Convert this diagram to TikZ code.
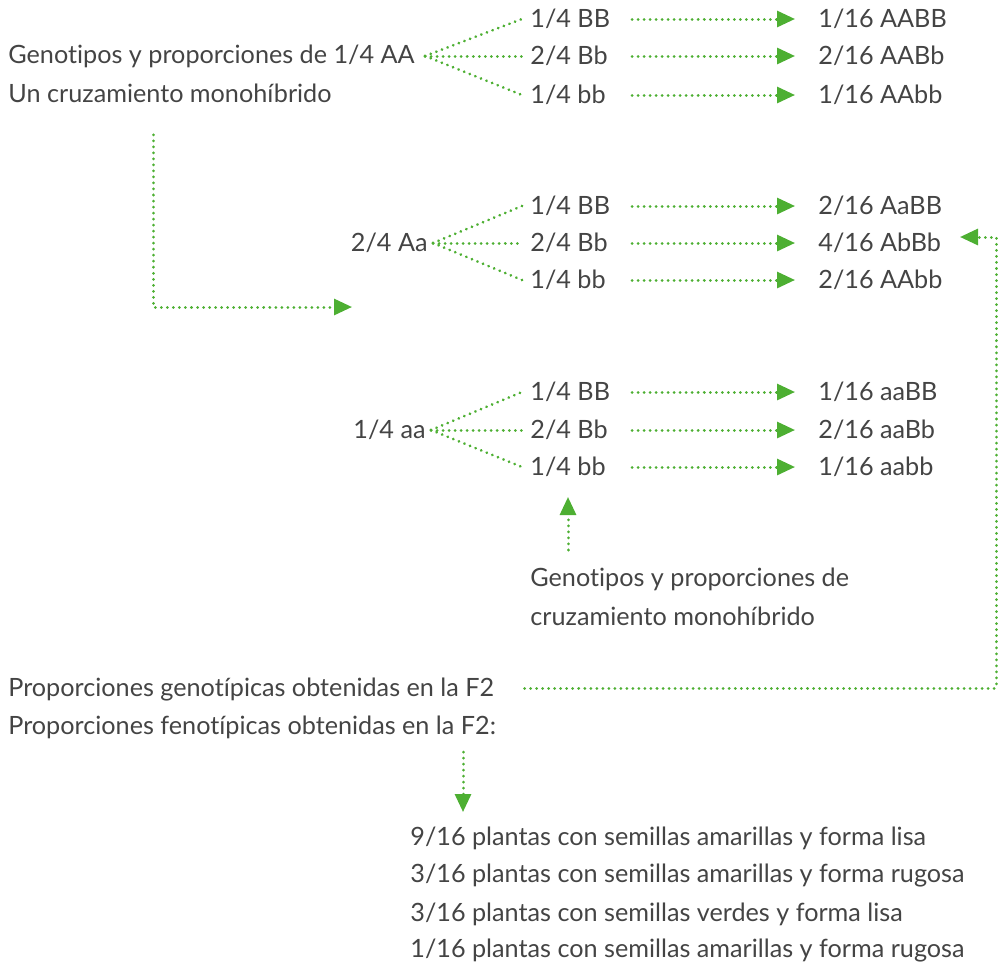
\documentclass[tikz,border=0pt]{standalone}
\usepackage{fontspec}
\setmainfont{Lato}[Ligatures=NoCommon]
\usepackage{xcolor}
\usetikzlibrary{arrows.meta,positioning,calc}
\definecolor{leafgreen}{RGB}{77,175,50}
\definecolor{txtgray}{RGB}{68,68,68}

\begin{document}
\begin{tikzpicture}[x=0.5pt, y=-0.5pt, font=\fontsize{12.6}{14}\selectfont, text=txtgray]
  \tikzstyle{lbl}=[anchor=west, inner sep=0pt]
  \tikzstyle{dots}=[leafgreen, line width=1.5pt, line cap=round, dash pattern=on 0.01pt off 3pt]
  \tikzstyle{arr}=[dots, -{Triangle[length=9pt, width=8pt, line cap=butt]}]
  \useasboundingbox (0,0) rectangle (1006,970);

  % first block, 1/4 AA
  \node[lbl] (gAA) at (8,56) {Genotipos y proporciones de 1/4 AA};
  \node[lbl] (mono) at (8,93) {Un cruzamiento monohíbrido};
  \coordinate (fAA) at ([xshift=5pt]gAA.east);
  \node[lbl] (aBB) at (530,19) {1/4 BB};
  \node[lbl] (aBb) at (530,56) {2/4 Bb};
  \node[lbl] (abb) at (530,95) {1/4 bb};
  \node[lbl] (rAABB) at (818,19) {1/16 AABB};
  \node[lbl] (rAABb) at (818,56) {2/16 AABb};
  \node[lbl] (rAAbb) at (818,95) {1/16 AAbb};

  % second block, 2/4 Aa
  \node[anchor=east, inner sep=0pt] (gAa) at (428,243) {2/4 Aa};
  \coordinate (fAa) at ([xshift=2.5pt]gAa.east);
  \node[lbl] (bBB) at (530,206) {1/4 BB};
  \node[lbl] (bBb) at (530,243) {2/4 Bb};
  \node[lbl] (bbb) at (530,280) {1/4 bb};
  \node[lbl] (rAaBB) at (818,206) {2/16 AaBB};
  \node[lbl] (rAbBb) at (818,243) {4/16 AbBb};
  \node[lbl] (rAAbb2) at (818,280) {2/16 AAbb};

  % third block, 1/4 aa
  \node[anchor=east, inner sep=0pt] (gaa) at (426,430) {1/4 aa};
  \coordinate (faa) at ([xshift=2.5pt]gaa.east);
  \node[lbl] (cBB) at (530,392) {1/4 BB};
  \node[lbl] (cBb) at (530,430) {2/4 Bb};
  \node[lbl] (cbb) at (530,467) {1/4 bb};
  \node[lbl] (raaBB) at (818,392) {1/16 aaBB};
  \node[lbl] (raaBb) at (818,430) {2/16 aaBb};
  \node[lbl] (raabb) at (818,467) {1/16 aabb};

  % notes
  \node[lbl] (note1) at (530,579) {Genotipos y proporciones de};
  \node[lbl] (note2) at (530,616) {cruzamiento monohíbrido};
  \node[lbl] (geno) at (8,690) {Proporciones genotípicas obtenidas en la F2};
  \node[lbl] (feno) at (8,727) {Proporciones fenotípicas obtenidas en la F2:};
  \node[lbl] (p1) at (410,838) {9/16 plantas con semillas amarillas y forma lisa};
  \node[lbl] (p2) at (410,876) {3/16 plantas con semillas amarillas y forma rugosa};
  \node[lbl] (p3) at (410,914) {3/16 plantas con semillas verdes y forma lisa};
  \node[lbl] (p4) at (410,951) {1/16 plantas con semillas amarillas y forma rugosa};

  % fans
  \foreach \f/\a/\b/\c in {fAA/aBB/aBb/abb, fAa/bBB/bBb/bbb, faa/cBB/cBb/cbb}{
    \draw[dots] (\f) -- ([xshift=-4pt]\a.west);
    \draw[dots] (\f) -- ([xshift=-4pt]\b.west);
    \draw[dots] (\f) -- ([xshift=-4pt]\c.west);
  }

  % rows of arrows
  \foreach \l/\r in {aBB/rAABB, aBb/rAABb, abb/rAAbb, bBB/rAaBB, bBb/rAbBb, bbb/rAAbb2, cBB/raaBB, cBb/raaBb, cbb/raabb}
    \draw[arr] ([xshift=51pt]\l.west) -- ([xshift=-11.5pt]\r.west);

  % connectors
  \draw[arr] ([yshift=-16pt]mono.south west -| 153,0) |- (352,307);
  \coordinate (upA) at (568,550);
  \draw[arr] (upA) -- (568,497);
  \coordinate (backA) at (960,237);
  \draw[arr] ([xshift=15pt]geno.east |- 0,688) -- (996,688) -- (996,237) -- (backA);
  \draw[arr] (463,752) -- (463,812);
\end{tikzpicture}
\end{document}
